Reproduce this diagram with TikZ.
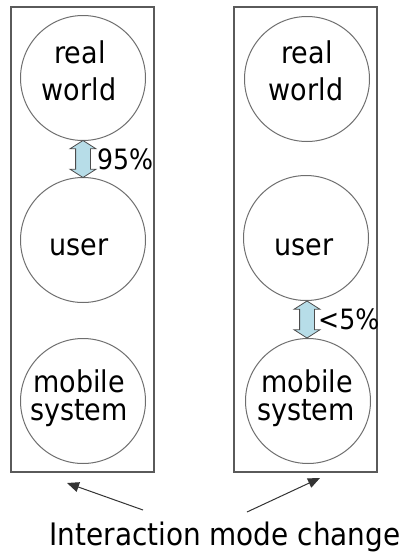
\documentclass[tikz,border=0pt]{standalone}
\usepackage{fontspec}
\setmainfont{DejaVu Sans Condensed}
\usetikzlibrary{shapes.arrows,arrows.meta,calc}

\definecolor{arrowblue}{HTML}{B7DDE8}
\definecolor{framegray}{HTML}{5A5A5A}
\definecolor{ringgray}{HTML}{6E6E6E}

\begin{document}
\begin{tikzpicture}[x=1pt,y=-1pt,
  panel/.style={draw=framegray, line width=1.2pt, minimum width=143pt,
    minimum height=465pt, inner sep=0pt},
  ring/.style={circle, draw=ringgray, line width=1pt, minimum size=125pt,
    inner sep=0pt},
  word/.style={anchor=base, font=\fontsize{30}{30}\selectfont, inner sep=0pt},
  share/.style={anchor=base west, font=\fontsize{28}{28}\selectfont, inner sep=0pt},
  flow/.style={double arrow, draw=black!70, fill=arrowblue, line width=0.8pt,
    rotate=90, inner sep=0pt, minimum height=37pt,
    double arrow head extend=5.5pt, double arrow tip angle=115},
  pointer/.style={draw=black!80, line width=1pt,
    -{Triangle[length=12pt,width=10pt]}}
]
\useasboundingbox (0,0) rectangle (402,552);

% the two frames
\node[panel] (lp) at (82.5,239.5) {};
\node[panel] (rp) at (305.5,239.5) {};

% left column
\node[ring] (rw) at (83,78) {};
\node[ring] (us) at (83,240) {};
\node[ring] (ms) at (83,401) {};
\node[word] (rwa) at (80,63) {real};
\node[word] (rwb) at (79,100) {world};
\node[word] (usa) at (79,255) {user};
\node[word] (msa) at (79,392) {mobile};
\node[word] (msb) at (79,420) {system};
\node[flow] (fa) at ($(rw.south)!0.5!(us.north)$) {\rule{0pt}{14pt}};
\node[share] (pa) at (97,169) {95\%};

% right column
\node[ring] (rw2) at (307,79) {};
\node[ring] (us2) at (306,238) {};
\node[ring] (ms2) at (308,401) {};
\node[word] (rwc) at (307,63) {real};
\node[word] (rwd) at (306,100) {world};
\node[word] (usb) at (304,255) {user};
\node[word] (msc) at (307,392) {mobile};
\node[word] (msd) at (306,420) {system};
\node[flow] (fb) at ($(us2.south)!0.5!(ms2.north)$) {\rule{0pt}{14pt}};
\node[share] (pb) at (318,329) {<5\%};

% caption with pointers to both frames
\node[word, font=\fontsize{31}{31}\selectfont] (cap) at (225,545) {Interaction mode change};
\coordinate (tl) at (143,510);
\coordinate (hl) at (67,483);
\coordinate (tr) at (247,512);
\coordinate (hr) at (320,478);
\draw[pointer] (tl) -- (hl);
\draw[pointer] (tr) -- (hr);
\end{tikzpicture}
\end{document}
